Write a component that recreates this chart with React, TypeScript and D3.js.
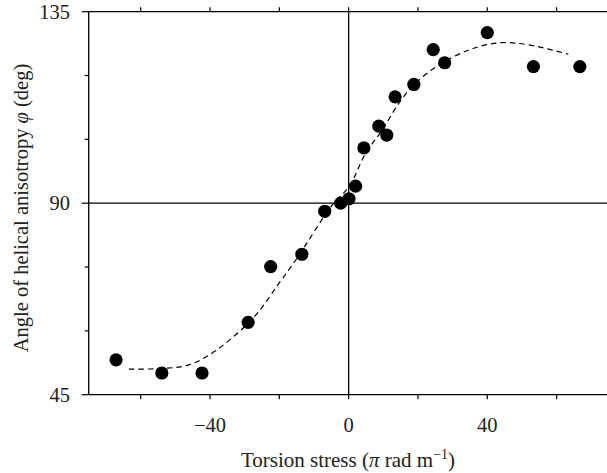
import React from "react";
import * as d3 from "d3";

const pointsX = [-67.1, -53.9, -42.3, -29.0, -22.5, -13.5, -6.9, -2.3, 0.1, 2.0, 4.4, 8.7, 11.0, 13.4, 18.8, 24.4, 27.7, 40.0, 53.3, 66.7];
const pointsY = [53.2, 50.1, 50.1, 62.0, 75.1, 78.0, 88.1, 90.0, 91.05, 94.0, 103.0, 108.1, 106.0, 115.0, 117.9, 126.1, 123.0, 130.1, 122.1, 122.1];

const fitX = [-63.4, -52.8, -46.1, -40.3, -33.7, -26.8, -20.1, -15.3, -4.7, 0.1, 4.9, 9.7, 14.5, 19.3, 26.1, 34.7, 43.4, 52.0, 63.4];
const fitY = [51.0, 51.2, 52.0, 54.3, 58.3, 63.7, 71.2, 76.6, 89.6, 93.9, 101.7, 107.2, 113.5, 118.2, 122.5, 126.0, 127.7, 127.2, 125.0];

const xTicks = [-60, -40, -20, 0, 20, 40, 60];
const xLabels = [-40, 0, 40];
const yTicks = [45, 60, 75, 90, 105, 120, 135];
const yLabels = [45, 90, 135];

export default function App() {
  const W = 607, H = 473;
  const left = 88.7, top = 11.7, bottom = 394.7;
  const x = d3.scaleLinear().domain([-75, 75]).range([left, left + 150 * 3.466]);
  const y = d3.scaleLinear().domain([45, 135]).range([bottom, top]);
  const fitData = fitX.map((v, i) => [v, fitY[i]] as [number, number]);
  const line = d3.line<[number, number]>().x(d => x(d[0])).y(d => y(d[1])).curve(d3.curveCatmullRom.alpha(0.5));
  const font = "'Liberation Serif', 'Times New Roman', serif";
  const right = x(75);
  const minus = (v: number) => (v < 0 ? "\u2212" + Math.abs(v) : String(v));
  return (
    <svg width={W} height={H} style={{ position: "absolute", left: 0, top: 0, background: "#fff" }} fontFamily={font}>
      <line x1={left} x2={right} y1={top} y2={top} stroke="#000" strokeWidth={1.3} />
      <line x1={left} x2={right} y1={bottom} y2={bottom} stroke="#000" strokeWidth={1.3} />
      <line x1={left} x2={left} y1={top} y2={bottom} stroke="#000" strokeWidth={1.3} />
      <line x1={right} x2={right} y1={top} y2={bottom} stroke="#000" strokeWidth={1.3} />
      <line x1={x(0)} x2={x(0)} y1={top} y2={bottom} stroke="#000" strokeWidth={1.3} />
      <line x1={left} x2={right} y1={y(90)} y2={y(90)} stroke="#000" strokeWidth={1.3} />
      {xTicks.map(t => (
        <g key={"xt" + t}>
          <line x1={x(t)} x2={x(t)} y1={bottom} y2={bottom + 4.5} stroke="#000" strokeWidth={1.2} />
          <line x1={x(t)} x2={x(t)} y1={top} y2={top - 4.5} stroke="#000" strokeWidth={1.2} />
        </g>
      ))}
      {xLabels.map(t => (
        <text key={"xl" + t} x={x(t)} y={432} textAnchor="middle" fontSize={20.5} fill="#222">{minus(t)}</text>
      ))}
      {yTicks.map(t => (
        <line key={"yt" + t} x1={left} x2={left - (yLabels.includes(t) ? 7 : 4)} y1={y(t)} y2={y(t)} stroke="#000" strokeWidth={1.2} />
      ))}
      {yLabels.map(t => (
        <text key={"yl" + t} x={70} y={y(t)} dy="0.35em" textAnchor="end" fontSize={20.5} fill="#222">{t}</text>
      ))}
      <path d={line(fitData) || ""} fill="none" stroke="#000" strokeWidth={1.2} strokeDasharray="5.5,4" />
      {pointsX.map((v, i) => (
        <circle key={"p" + i} cx={x(v)} cy={y(pointsY[i])} r={6.6} fill="#000" />
      ))}
      <text x={348} y={467} textAnchor="middle" fontSize={21} fill="#222">
        Torsion stress (<tspan fontStyle="italic">π</tspan> rad m<tspan dy={-8} fontSize={14}>−1</tspan><tspan dy={8}>)</tspan>
      </text>
      <text transform={`translate(28,208) rotate(-90)`} textAnchor="middle" fontSize={20.5} fill="#222">
        Angle of helical anisotropy <tspan fontStyle="italic">φ</tspan> (deg)
      </text>
    </svg>
  );
}
